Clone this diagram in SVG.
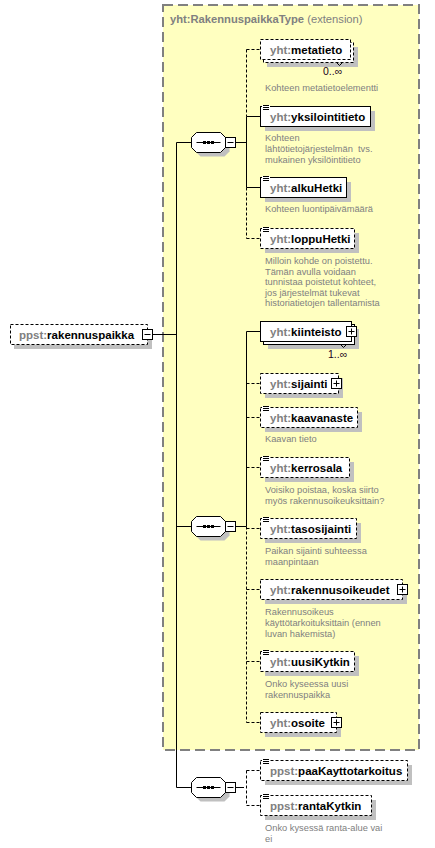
<svg xmlns="http://www.w3.org/2000/svg" width="435" height="848" viewBox="0 0 435 848">
<style>
.ext{fill:#FFFFC0;stroke:#808080;stroke-width:2;stroke-dasharray:10,5}
.box{fill:#fff;stroke:#000;stroke-width:1}
.opt{stroke-dasharray:3,2}
.sh{fill:#C0C0C0}
.nm{font-family:"Liberation Sans",Arial,sans-serif;font-size:11.5px;font-weight:bold;fill:#000}
.px{fill:#808080}
.ds{font-family:"Liberation Sans",Arial,sans-serif;font-size:9.3px;fill:#808080;white-space:pre}
.oc{font-family:"Liberation Sans",Arial,sans-serif;font-size:10.5px;fill:#200020}
.ln{stroke:#000;stroke-width:1;fill:none}
.dl{stroke:#000;stroke-width:1;fill:none;stroke-dasharray:3,2}
.title{font-family:"Liberation Sans",Arial,sans-serif;font-size:11.2px;fill:#808080}
</style>
<defs>
<g id="minus"><rect x="-5" y="-5" width="10" height="10" fill="#fff" stroke="#000"/><line x1="-3" y1="0" x2="3" y2="0" stroke="#000"/></g>
<g id="plus"><rect x="-5" y="-5" width="10" height="10" fill="#fff" stroke="#000"/><line x1="-3" y1="0" x2="3" y2="0" stroke="#000"/><line x1="0" y1="-3" x2="0" y2="3" stroke="#000"/></g>
<g id="seq">
<polygon class="sh" points="-8,-6 16,-6 21,-1 21,9 16,14 -8,14 -13,9 -13,-1"/>
<polygon points="-12,-10 12,-10 17,-5 17,5 12,10 -12,10 -17,5 -17,-5" fill="#fff" stroke="#000"/>
<line x1="-12" y1="0" x2="12" y2="0" stroke="#000"/>
<rect x="-5.5" y="-1.5" width="3" height="3" fill="#000"/>
<rect x="-1.5" y="-1.5" width="3" height="3" fill="#000"/>
<rect x="2.5" y="-1.5" width="3" height="3" fill="#000"/>
<use href="#minus" x="22" y="0"/>
</g>
<g id="doc"><rect x="0" y="-2" width="8" height="6" fill="#fff"/><path d="M1 -1.5h6M1 0.5h6M1 2.5h6" stroke="#000" stroke-width="1"/></g>
</defs>

<rect class="ext" x="163" y="5" width="256" height="745"/>
<text class="title" x="170" y="23"><tspan font-weight="bold">yht:RakennuspaikkaType</tspan> (extension)</text>

<g id="connectors">
<line class="ln" x1="152.5" y1="334.5" x2="176.5" y2="334.5"/>
<line class="ln" x1="176.5" y1="142.5" x2="176.5" y2="787.5"/>
<line class="ln" x1="176.5" y1="142.5" x2="191" y2="142.5"/>
<line class="ln" x1="176.5" y1="526.5" x2="191" y2="526.5"/>
<line class="ln" x1="176.5" y1="787.5" x2="191" y2="787.5"/>
<line class="ln" x1="235.5" y1="142.5" x2="246.5" y2="142.5"/>
<line class="dl" x1="246.5" y1="49.5" x2="246.5" y2="116.5"/>
<line class="ln" x1="246.5" y1="116.5" x2="246.5" y2="187.5"/>
<line class="dl" x1="246.5" y1="187.5" x2="246.5" y2="238.5"/>
<line class="dl" x1="246.5" y1="49.5" x2="260" y2="49.5"/>
<line class="ln" x1="246.5" y1="116.5" x2="260" y2="116.5"/>
<line class="ln" x1="246.5" y1="187.5" x2="260" y2="187.5"/>
<line class="dl" x1="246.5" y1="238.5" x2="260" y2="238.5"/>
<line class="ln" x1="235.5" y1="526.5" x2="246.5" y2="526.5"/>
<line class="ln" x1="246.5" y1="331.5" x2="246.5" y2="526.5"/>
<line class="dl" x1="246.5" y1="526.5" x2="246.5" y2="722.5"/>
<line class="ln" x1="246.5" y1="331.5" x2="260" y2="331.5"/>
<line class="dl" x1="246.5" y1="383.5" x2="260" y2="383.5"/>
<line class="dl" x1="246.5" y1="417.5" x2="260" y2="417.5"/>
<line class="dl" x1="246.5" y1="467.5" x2="260" y2="467.5"/>
<line class="dl" x1="246.5" y1="528.5" x2="260" y2="528.5"/>
<line class="dl" x1="246.5" y1="589.5" x2="260" y2="589.5"/>
<line class="dl" x1="246.5" y1="661.5" x2="260" y2="661.5"/>
<line class="dl" x1="246.5" y1="722.5" x2="260" y2="722.5"/>
<line class="ln" x1="235.5" y1="787.5" x2="241" y2="787.5"/>
<line class="dl" x1="246.5" y1="770.5" x2="246.5" y2="805.5"/>
<line class="dl" x1="241" y1="787.5" x2="246.5" y2="787.5"/>
<line class="dl" x1="246.5" y1="770.5" x2="260" y2="770.5"/>
<line class="dl" x1="246.5" y1="805.5" x2="260" y2="805.5"/>
</g>

<g id="rakennuspaikka">
<rect class="sh" x="14" y="329" width="138" height="20"/>
<rect class="box opt" x="10.5" y="324.5" width="137" height="20"/>
<text class="nm" x="19" y="338.5"><tspan class="px">ppst:</tspan>rakennuspaikka</text>
<use href="#minus" x="147.5" y="334.5"/>
</g>

<g id="seq1"><use href="#seq" x="208.5" y="142.5"/></g>
<g id="seq2"><use href="#seq" x="208.5" y="526.5"/></g>
<g id="seq3"><use href="#seq" x="208.5" y="787.5"/></g>

<g id="metatieto">
<rect class="sh" x="267" y="47" width="91" height="20"/>
<rect class="box opt" x="263.5" y="42.5" width="90" height="20"/>
<rect class="box opt" x="260.5" y="39.5" width="90" height="20"/>
<polyline class="ln" points="336.5,62.5 339.5,65.5 342.5,62.5"/>
<text class="nm" x="270" y="53.5"><tspan class="px">yht:</tspan>metatieto</text>
<text class="oc" x="323" y="75">0..∞</text>
<text class="ds" x="265" y="91">Kohteen metatietoelementti</text>
</g>

<g id="yksilointitieto">
<rect class="sh" x="265" y="111" width="110" height="20"/>
<rect class="box" x="260.5" y="106.5" width="110" height="20"/>
<use href="#doc" x="262" y="107"/>
<text class="nm" x="270" y="120.5"><tspan class="px">yht:</tspan>yksilointitieto</text>
<text class="ds" x="265" y="141">Kohteen</text>
<text class="ds" x="265" y="152">lähtötietojärjestelmän  tvs.</text>
<text class="ds" x="265" y="163">mukainen yksilöintitieto</text>
</g>

<g id="alkuHetki">
<rect class="sh" x="265" y="182" width="86" height="20"/>
<rect class="box" x="260.5" y="177.5" width="86" height="20"/>
<use href="#doc" x="262" y="178"/>
<text class="nm" x="270" y="191.5"><tspan class="px">yht:</tspan>alkuHetki</text>
<text class="ds" x="265" y="212">Kohteen luontipäivämäärä</text>
</g>

<g id="loppuHetki">
<rect class="sh" x="265" y="233" width="94" height="20"/>
<rect class="box opt" x="260.5" y="228.5" width="94" height="20"/>
<use href="#doc" x="262" y="229"/>
<text class="nm" x="270" y="242.5"><tspan class="px">yht:</tspan>loppuHetki</text>
<text class="ds" x="265" y="264">Milloin kohde on poistettu.</text>
<text class="ds" x="265" y="274.5">Tämän avulla voidaan</text>
<text class="ds" x="265" y="285">tunnistaa poistetut kohteet,</text>
<text class="ds" x="265" y="295.5">jos järjestelmät tukevat</text>
<text class="ds" x="265" y="306">historiatietojen tallentamista</text>
</g>

<g id="kiinteisto">
<rect class="sh" x="268" y="329" width="91" height="20"/>
<rect class="box" x="263.5" y="324.5" width="91" height="20"/>
<rect class="box" x="260.5" y="321.5" width="91" height="20"/>
<polyline class="ln" points="340.5,344.5 343.5,347.5 346.5,344.5"/>
<text class="nm" x="270" y="335.5"><tspan class="px">yht:</tspan>kiinteisto</text>
<use href="#plus" x="351.5" y="331.5"/>
<text class="oc" x="328" y="358">1..∞</text>
</g>

<g id="sijainti">
<rect class="sh" x="265" y="378" width="78" height="20"/>
<rect class="box opt" x="260.5" y="373.5" width="78" height="20"/>
<text class="nm" x="270" y="387.5"><tspan class="px">yht:</tspan>sijainti</text>
<use href="#plus" x="336.5" y="383.5"/>
</g>

<g id="kaavanaste">
<rect class="sh" x="265" y="412" width="97" height="20"/>
<rect class="box opt" x="260.5" y="407.5" width="97" height="20"/>
<use href="#doc" x="262" y="408"/>
<text class="nm" x="270" y="421.5"><tspan class="px">yht:</tspan>kaavanaste</text>
<text class="ds" x="265" y="442">Kaavan tieto</text>
</g>

<g id="kerrosala">
<rect class="sh" x="265" y="462" width="89" height="20"/>
<rect class="box opt" x="260.5" y="457.5" width="89" height="20"/>
<use href="#doc" x="262" y="458"/>
<text class="nm" x="270" y="471.5"><tspan class="px">yht:</tspan>kerrosala</text>
<text class="ds" x="265" y="493">Voisiko poistaa, koska siirto</text>
<text class="ds" x="265" y="504">myös rakennusoikeuksittain?</text>
</g>

<g id="tasosijainti">
<rect class="sh" x="265" y="523" width="96" height="20"/>
<rect class="box opt" x="260.5" y="518.5" width="96" height="20"/>
<use href="#doc" x="262" y="519"/>
<text class="nm" x="270" y="532.5"><tspan class="px">yht:</tspan>tasosijainti</text>
<text class="ds" x="265" y="554">Paikan sijainti suhteessa</text>
<text class="ds" x="265" y="565">maanpintaan</text>
</g>

<g id="rakennusoikeudet">
<rect class="sh" x="265" y="584" width="142" height="20"/>
<rect class="box opt" x="260.5" y="579.5" width="142" height="20"/>
<text class="nm" x="270" y="593.5"><tspan class="px">yht:</tspan>rakennusoikeudet</text>
<use href="#plus" x="402.5" y="589.5"/>
<text class="ds" x="265" y="615">Rakennusoikeus</text>
<text class="ds" x="265" y="626">käyttötarkoituksittain (ennen</text>
<text class="ds" x="265" y="637">luvan hakemista)</text>
</g>

<g id="uusiKytkin">
<rect class="sh" x="265" y="656" width="94" height="20"/>
<rect class="box opt" x="260.5" y="651.5" width="94" height="20"/>
<use href="#doc" x="262" y="652"/>
<text class="nm" x="270" y="665.5"><tspan class="px">yht:</tspan>uusiKytkin</text>
<text class="ds" x="265" y="686.5">Onko kyseessa uusi</text>
<text class="ds" x="265" y="697.5">rakennuspaikka</text>
</g>

<g id="osoite">
<rect class="sh" x="265" y="717" width="76" height="20"/>
<rect class="box opt" x="260.5" y="712.5" width="76" height="20"/>
<text class="nm" x="270" y="726.5"><tspan class="px">yht:</tspan>osoite</text>
<use href="#plus" x="336.5" y="722.5"/>
</g>

<g id="paaKayttotarkoitus">
<rect class="sh" x="265" y="765" width="147" height="20"/>
<rect class="box opt" x="260.5" y="760.5" width="147" height="20"/>
<use href="#doc" x="262" y="761"/>
<text class="nm" x="270" y="774.5"><tspan class="px">ppst:</tspan>paaKayttotarkoitus</text>
</g>

<g id="rantaKytkin">
<rect class="sh" x="265" y="800" width="111" height="20"/>
<rect class="box opt" x="260.5" y="795.5" width="111" height="20"/>
<use href="#doc" x="262" y="796"/>
<text class="nm" x="270" y="809.5"><tspan class="px">ppst:</tspan>rantaKytkin</text>
<text class="ds" x="265" y="831">Onko kysessä ranta-alue vai</text>
<text class="ds" x="265" y="842">ei</text>
</g>
</svg>
